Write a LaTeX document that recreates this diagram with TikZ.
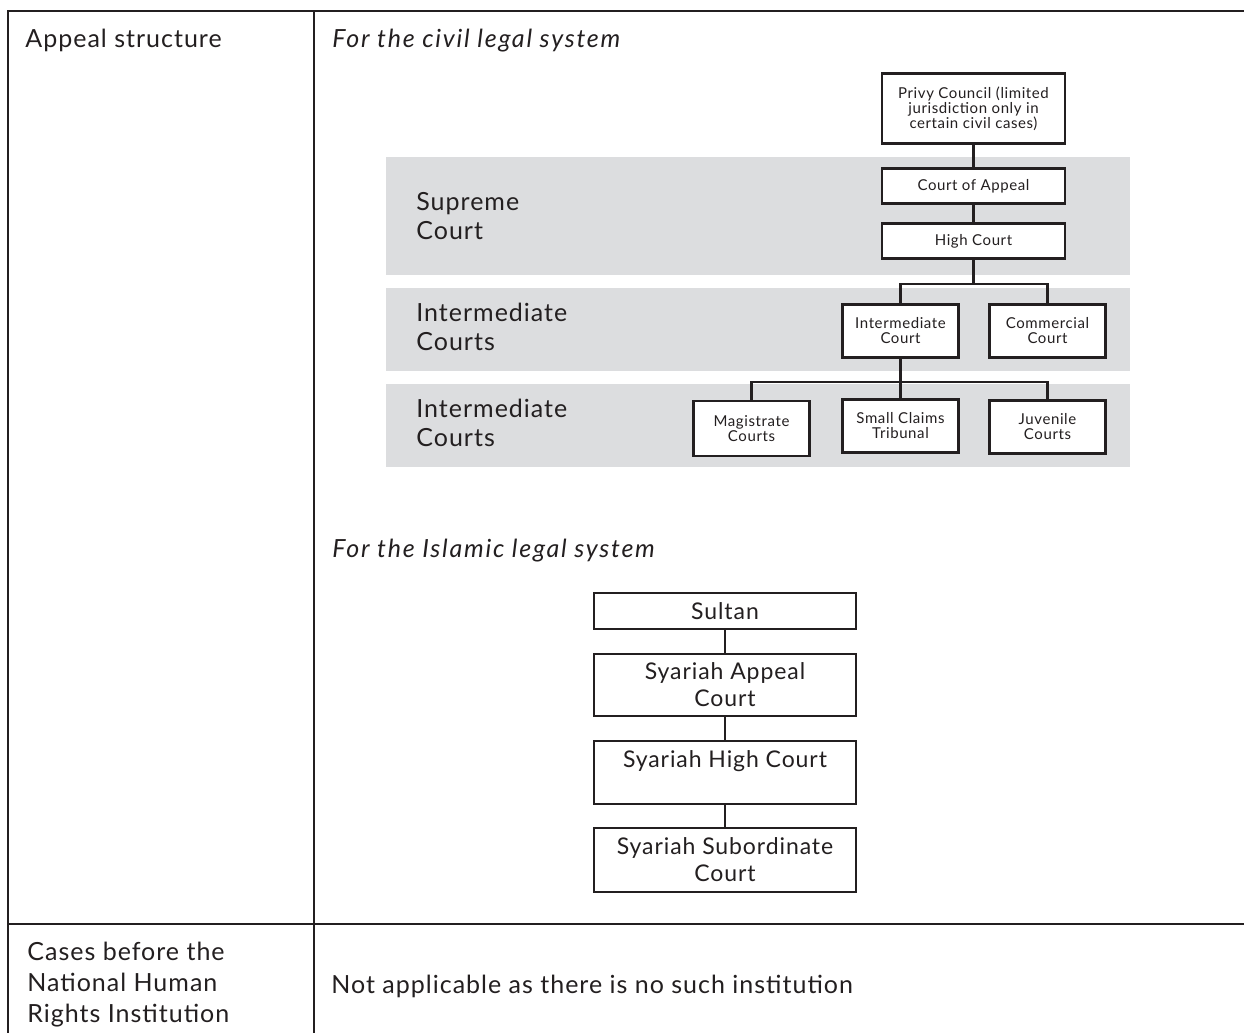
\documentclass[tikz,border=0pt]{standalone}
\usepackage{fontspec}
\setmainfont{Lato}[LetterSpace=4.0]
\usetikzlibrary{positioning}
\definecolor{bandgray}{HTML}{DCDDDF}
\definecolor{ink}{HTML}{231F20}
\newcommand{\heading}[1]{{\itshape\addfontfeature{LetterSpace=7.0}#1}}

\begin{document}
\begin{tikzpicture}[x=0.5pt,y=-0.5pt,
	every node/.style={text=ink,inner sep=0pt},
	label/.style={anchor=base west,align=left,font=\fontsize{12.5}{14.25}\selectfont},
	court/.style={draw=ink,line width=1.3pt,fill=white,align=center,
		font=\fontsize{7.5}{7.5}\selectfont,minimum width=58pt,minimum height=26.5pt},
	syariah/.style={draw=ink,line width=1pt,fill=white,align=center,
		font=\fontsize{11.5}{13.5}\selectfont,minimum width=131pt},
	link/.style={draw=ink,line width=1.2pt},
	link2/.style={draw=ink,line width=1pt}
]
	\useasboundingbox (0,0) rectangle (1244,1033);

	% table rules
	\draw[ink,line width=1.2pt] (1244,11) -- (8,11) -- (8,1033);
	\draw[ink,line width=1.2pt] (314,11) -- (314,1033);
	\draw[ink,line width=1.2pt] (8,924) -- (1244,924);

	% grey bands
	\fill[bandgray] (386,157) rectangle (1130,275);
	\fill[bandgray] (386,288) rectangle (1130,371);
	\fill[bandgray] (386,384) rectangle (1130,467);

	% labels (base = last line)
	\node[label] at (25,47) (label1) {Appeal structure};
	\node[label] at (332,47) (label2) {\heading{For the civil legal system}};
	\node[label] at (416,239) (band1) {Supreme\\Court};
	\node[label] at (416,350) (band2) {Intermediate\\Courts};
	\node[label] at (416,446) (band3) {Intermediate\\Courts};

	% civil courts
	\node[court,minimum width=91.5pt,minimum height=35pt] at (973.5,108.5) (privy) {Privy Council (limited\\jurisdiction only in\\certain civil cases)};
	\node[court,minimum width=91.5pt,minimum height=17.5pt] at (973.5,186) (appeal) {Court of Appeal};
	\node[court,minimum width=91.5pt,minimum height=17.5pt] at (973.5,241) (high) {High Court};
	\node[court] at (900.5,331) (inter) {Intermediate\\Court};
	\node[court] at (1047.5,331) (commercial) {Commercial\\Court};
	\node[court,minimum height=27.5pt] at (751.5,428.5) (magistrate) {Magistrate\\Courts};
	\node[court] at (900.5,426) (claims) {Small Claims\\Tribunal};
	\node[court] at (1047.5,427) (juvenile) {Juvenile\\Courts};

	\coordinate (fork1) at (973.5,284);
	\coordinate (fork2) at (900.5,382);
	\draw[link] (privy) -- (appeal);
	\draw[link] (appeal) -- (high);
	\draw[link] (high) -- (fork1);
	\draw[link] (inter.north) |- (fork1) -| (commercial.north);
	\draw[link] (inter) -- (claims);
	\draw[link] (magistrate.north) |- (fork2) -| (juvenile.north);

	% islamic courts
	\node[label] at (332,557) (label3) {\heading{For the Islamic legal system}};
	\node[syariah,minimum height=18pt] at (725,611) (sultan) {Sultan};
	\node[syariah,minimum height=31pt] at (725,685) (sappeal) {Syariah Appeal\\Court};
	\node[syariah,text height=13pt,text depth=18.5pt] at (725,772.5) (shigh) {Syariah High Court};
	\node[syariah,minimum height=32pt] at (725,860) (ssub) {Syariah Subordinate\\Court};
	\draw[link2] (sultan) -- (sappeal);
	\draw[link2] (sappeal) -- (shigh);
	\draw[link2] (shigh) -- (ssub);

	% second row
	\node[label,font=\fontsize{12.5}{15.5}\selectfont] at (27,1022) (label4) {Cases before the\\National Human\\Rights Institution};
	\node[label] at (331,993) (label5) {Not applicable as there is no such institution};
\end{tikzpicture}
\end{document}
